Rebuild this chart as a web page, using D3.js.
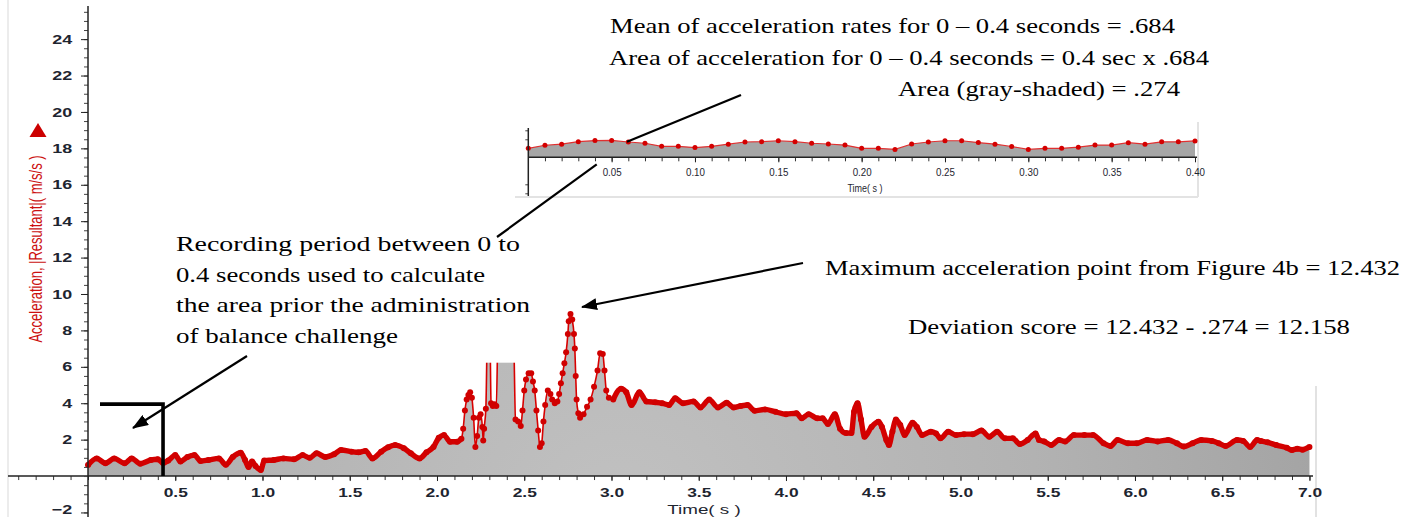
<!DOCTYPE html>
<html>
<head>
<meta charset="utf-8">
<script src="https://cdn.jsdelivr.net/npm/d3@7"></script>
<style>
body { margin: 0; background: #fff; }
svg { display: block; }
.ann { font-family: "Liberation Serif", "Times New Roman", serif; font-size: 22px; fill: #000; }
.sans { font-family: "Liberation Sans", Arial, sans-serif; }
</style>
</head>
<body>
<div id="chart"></div>
<script>
'use strict'
var width = 1411;
var height = 517;

// resultant acceleration (m/s/s) against time (s)
var times = [
	0.00,0.05,0.10,0.15,0.21,0.25,0.30,0.36,0.40,0.43,
	0.46,0.50,0.53,0.57,0.61,0.645,0.69,0.75,0.79,0.83,
	0.875,0.90,0.92,0.94,0.96,0.99,1.01,1.065,1.12,1.18,
	1.23,1.27,1.31,1.36,1.41,1.45,1.51,1.55,1.59,1.63,
	1.68,1.72,1.76,1.81,1.85,1.90,1.94,1.98,2.01,2.04,
	2.075,2.115,2.14,
	2.15,2.16,2.17,2.18,2.19,2.20,2.21,2.22,2.23,2.24,
	2.25,2.26,2.265,2.27,2.28,2.29,2.30,2.31,2.32,2.33,
	2.34,2.35,2.37,2.40,2.42,2.44,2.45,2.465,2.48,2.49,
	2.50,2.51,2.525,2.54,2.55,2.56,2.57,2.58,2.59,2.60,
	2.61,2.62,2.635,2.65,2.66,2.675,2.69,2.70,2.71,2.72,
	2.73,2.74,2.75,2.755,2.765,2.775,2.785,2.79,2.795,2.80,
	2.81,2.82,2.84,2.86,2.88,2.90,2.92,2.935,2.95,2.96,
	2.97,2.985,
	3.01,3.055,3.085,3.115,3.16,3.20,3.25,3.29,3.33,3.365,
	3.41,3.47,3.51,3.56,3.61,3.66,3.70,3.74,3.78,3.82,
	3.88,3.94,4.00,4.06,4.09,4.13,4.18,4.21,4.24,4.28,
	4.31,4.345,4.375,4.39,4.41,4.43,4.45,4.49,4.53,4.55,
	4.575,4.59,4.61,4.63,4.655,4.68,4.725,4.75,4.78,4.83,
	4.86,4.885,4.93,4.975,5.02,5.07,5.12,5.165,5.21,5.255,
	5.30,5.34,5.385,5.43,5.45,5.48,5.52,5.565,5.60,5.65,
	5.71,5.76,5.82,5.86,5.90,5.96,6.01,6.07,6.13,6.19,
	6.24,6.28,6.33,6.38,6.44,6.48,6.52,6.585,6.62,6.66,
	6.70,6.72,6.76,6.81,6.87,6.90,6.93,6.96,7.00
];
var accel = [
	0.60,0.97,0.70,0.97,0.70,0.97,0.68,0.88,0.92,0.72,
	0.85,1.15,0.80,1.05,1.15,0.82,0.88,0.97,0.62,1.05,
	1.28,0.88,0.50,0.80,0.55,0.33,0.85,0.88,0.97,0.92,
	1.15,1.00,1.25,1.05,1.20,1.43,1.34,1.30,1.38,0.97,
	1.34,1.58,1.70,1.53,1.25,0.97,1.30,1.60,2.10,2.25,
	1.88,1.88,2.05,
	2.60,3.60,4.20,4.45,4.60,4.30,3.20,1.60,2.20,3.20,
	3.40,2.70,1.95,2.60,3.70,9.00,10.50,4.00,3.85,3.95,
	3.85,8.50,11.00,12.40,10.50,7.50,3.10,3.00,2.75,3.60,
	4.70,5.30,5.65,5.65,5.20,4.70,3.60,2.50,1.60,1.80,
	3.00,3.90,4.70,4.50,4.20,4.00,4.10,4.50,5.10,5.65,
	6.20,6.80,7.80,8.50,8.90,8.60,7.80,7.00,5.50,4.20,
	3.45,3.20,3.40,3.80,4.20,4.90,5.80,6.75,6.70,5.80,
	4.70,4.30,
	4.20,4.80,4.60,3.90,4.60,4.10,4.05,4.00,3.90,4.27,
	4.00,4.10,3.77,4.20,3.77,4.03,3.77,3.85,3.90,3.59,
	3.66,3.53,3.40,3.45,3.17,3.40,3.17,3.17,2.86,3.40,
	2.60,2.36,2.36,3.53,4.00,3.10,2.16,2.70,2.98,2.70,
	1.98,1.70,2.45,3.10,2.80,2.25,2.93,2.70,2.25,2.43,
	2.34,2.07,2.43,2.25,2.30,2.30,2.50,2.16,2.43,2.07,
	2.07,1.76,1.98,2.34,1.98,1.90,1.70,1.98,1.90,2.25,
	2.25,2.25,1.80,1.65,1.98,1.80,1.80,1.98,1.90,1.98,
	1.80,1.62,1.80,1.98,1.93,1.80,1.65,1.98,1.93,1.60,
	1.98,1.93,1.85,1.70,1.55,1.43,1.50,1.45,1.60
];

// inset: the first 0.4 s at 100 Hz
var insetTimes = [
	0.00,0.01,0.02,0.03,0.04,0.05,0.06,0.07,0.08,0.09,
	0.10,0.11,0.12,0.13,0.14,0.15,0.16,0.17,0.18,0.19,
	0.20,0.21,0.22,0.23,0.24,0.25,0.26,0.27,0.28,0.29,
	0.30,0.31,0.32,0.33,0.34,0.35,0.36,0.37,0.38,0.39,
	0.40
];
var insetAccel = [
	0.50,0.67,0.73,0.87,0.93,0.94,0.85,0.78,0.61,0.61,
	0.54,0.61,0.73,0.85,0.87,0.92,0.87,0.78,0.74,0.68,
	0.50,0.50,0.44,0.74,0.85,0.92,0.92,0.82,0.73,0.60,
	0.44,0.50,0.50,0.56,0.68,0.68,0.81,0.73,0.86,0.86,
	0.91
];

var xTicks = [0.5,1.0,1.5,2.0,2.5,3.0,3.5,4.0,4.5,5.0,5.5,6.0,6.5,7.0];
var yTicks = [-2,2,4,6,8,10,12,14,16,18,20,22,24];
var insetTicks = [0.05,0.10,0.15,0.20,0.25,0.30,0.35,0.40];

var data = times.map(function(t, i){ return {t: t, v: accel[i]}; });
var insetData = insetTimes.map(function(t, i){ return {t: t, v: insetAccel[i]}; });

var svg = d3.select("#chart")
	.append('svg')
	.attr("width", width)
	.attr("height", height);

var x = d3.scaleLinear().domain([-0.4585, 7.026]).range([8, 1314]);
var y = d3.scaleLinear().domain([-2.25, 25.82]).range([517, 6]);

var defs = svg.append("defs");
var grad = defs.append("radialGradient")
	.attr("id", "areaFill")
	.attr("gradientUnits", "userSpaceOnUse")
	.attr("cx", 620).attr("cy", 520).attr("r", 760);
grad.append("stop").attr("offset", "0%").attr("stop-color", "#c1c1c1");
grad.append("stop").attr("offset", "55%").attr("stop-color", "#b2b2b2");
grad.append("stop").attr("offset", "100%").attr("stop-color", "#a1a1a1");

defs.append("marker")
	.attr("id", "arrow")
	.attr("markerUnits", "userSpaceOnUse")
	.attr("viewBox", "0 0 16 12")
	.attr("markerWidth", 16).attr("markerHeight", 12)
	.attr("refX", 15).attr("refY", 6)
	.attr("orient", "auto")
	.append("path")
		.attr("d", "M0,0L16,6L0,12z")
		.attr("fill", "#000");

// faint frame lines of the pasted graph
svg.append("line").attr("x1", 8).attr("x2", 8).attr("y1", 0).attr("y2", height)
	.style("stroke", "#e6e6e6").style("stroke-width", 1.5);
svg.append("line").attr("x1", 1316).attr("x2", 1316).attr("y1", 386).attr("y2", height)
	.style("stroke", "#e2e2e2").style("stroke-width", 2);

// Draw the area and trace
var area = d3.area()
	.x(function(d){ return x(d.t); })
	.y0(y(0))
	.y1(function(d){ return y(d.v); })
	.curve(d3.curveMonotoneX);

svg.append("path")
	.datum(data)
	.attr("d", area)
	.attr("fill", "url(#areaFill)");

var line = d3.line()
	.x(function(d){ return x(d.t); })
	.y(function(d){ return y(d.v); })
	.curve(d3.curveMonotoneX);

svg.append("path")
	.datum(data)
	.attr("d", line)
	.attr("fill", "none")
	.style("stroke", "#d80000")
	.style("stroke-width", 1.6);

// slow parts: the dense markers merge into a thick band
svg.append("path")
	.datum(data)
	.attr("d", line.defined(function(d){ return d.t < 2.145 || d.t > 3.0; }))
	.attr("fill", "none")
	.style("stroke", "#d40000")
	.style("stroke-width", 5.4)
	.style("stroke-linejoin", "round");

svg.append("g")
	.selectAll("circle")
	.data(data)
	.enter()
	.append("circle")
		.attr("cx", function(d){ return x(d.t); })
		.attr("cy", function(d){ return y(d.v); })
		.attr("r", 3)
		.attr("fill", "#d00000");

// x axis
var x0 = y(0);
svg.append("g")
	.attr("transform", "translate(0," + x0 + ")")
	.style("color", "#333")
	.call(d3.axisBottom(x).tickValues(d3.range(-4, 71).map(function(i){ return i / 10; }))
		.tickSize(4).tickSizeOuter(0).tickFormat(""))
	.call(function(g){ g.select(".domain").remove(); });

var xAxis = svg.append("g")
	.attr("transform", "translate(0," + x0 + ")")
	.style("color", "#222")
	.call(d3.axisBottom(x).tickValues(xTicks).tickSize(5).tickSizeOuter(0).tickFormat(d3.format(".1f")))
	.call(function(g){ g.select(".domain").remove(); });
xAxis.selectAll("text")
	.attr("class", "sans")
	.attr("y", 12.3)
	.attr("transform", "scale(1.45,1)")
	.style("font-size", "12px")
	.style("font-weight", "bold")
	.style("fill", "#1e2530");

svg.append("line")
	.attr("x1", 8).attr("x2", 1313)
	.attr("y1", x0).attr("y2", x0)
	.style("stroke", "#222").style("stroke-width", 1.5);

// y axis
svg.append("g")
	.attr("transform", "translate(" + x(0) + ",0)")
	.style("color", "#444")
	.call(d3.axisLeft(y).tickValues(d3.range(-4, 52).map(function(i){ return i / 2; }))
		.tickSize(4).tickSizeOuter(0).tickFormat(""))
	.call(function(g){ g.select(".domain").remove(); });

var yAxis = svg.append("g")
	.attr("transform", "translate(" + x(0) + ",0)")
	.style("color", "#222")
	.call(d3.axisLeft(y).tickValues(yTicks).tickSize(7).tickSizeOuter(0).tickFormat(d3.format("d")))
	.call(function(g){ g.select(".domain").remove(); });
yAxis.selectAll("text")
	.attr("class", "sans")
	.attr("x", -11.4)
	.attr("dy", function(d){ return d < 0 ? "0.05em" : "0.32em"; })
	.attr("transform", "scale(1.38,1)")
	.style("font-size", "13px")
	.style("font-weight", "bold")
	.style("fill", "#1e2530");

svg.append("line")
	.attr("x1", x(0)).attr("x2", x(0))
	.attr("y1", 6).attr("y2", height)
	.style("stroke", "#222").style("stroke-width", 1.5);

svg.append("text")
	.attr("class", "sans")
	.attr("transform", "translate(704,514) scale(1.45,1)")
	.attr("text-anchor", "middle")
	.style("font-size", "13px")
	.style("fill", "#1e2530")
	.text("Time( s )");

svg.append("text")
	.attr("class", "sans")
	.attr("transform", "translate(42,249) scale(1.4,1) rotate(-90)")
	.attr("text-anchor", "middle")
	.style("font-size", "13px")
	.style("fill", "#cc1010")
	.text("Acceleration, |Resultant|( m/s/s )");

svg.append("path")
	.attr("d", "M38,123L46.5,137L29.5,137z")
	.attr("fill", "#cc0000");

// white text box that hides the top of the spikes
svg.append("rect")
	.attr("x", 170).attr("y", 222)
	.attr("width", 347.3).attr("height", 140.7)
	.attr("fill", "#fff");

// annotations
var notes = [
	{x: 610, y: 33, w: 565, s: "Mean of acceleration rates for 0 \u2013 0.4 seconds = .684"},
	{x: 609, y: 65, w: 600, s: "Area of acceleration for 0 \u2013 0.4 seconds = 0.4 sec x .684"},
	{x: 898, y: 96, w: 282, s: "Area (gray-shaded) = .274"},
	{x: 176, y: 251, w: 344, s: "Recording period between 0 to"},
	{x: 176, y: 282, w: 309, s: "0.4 seconds used to calculate"},
	{x: 176, y: 312, w: 354, s: "the area prior the administration"},
	{x: 176, y: 343, w: 222, s: "of balance challenge"},
	{x: 825, y: 275, w: 575, s: "Maximum acceleration point from Figure 4b = 12.432"},
	{x: 908, y: 334, w: 442, s: "Deviation score = 12.432 - .274 = 12.158"}
];
svg.append("g")
	.selectAll("text")
	.data(notes)
	.enter()
	.append("text")
		.attr("class", "ann")
		.attr("x", function(d){ return d.x; })
		.attr("y", function(d){ return d.y; })
		.attr("textLength", function(d){ return d.w; })
		.attr("lengthAdjust", "spacingAndGlyphs")
		.text(function(d){ return d.s; });

// inset: first 0.4 seconds
var xi = d3.scaleLinear().domain([0, 0.4]).range([528.3, 1195]);
var yi = d3.scaleLinear().domain([0, 1]).range([157.3, 139.3]);

svg.append("line").attr("x1", 1198).attr("x2", 1198).attr("y1", 122).attr("y2", 197)
	.style("stroke", "#e3e3e3").style("stroke-width", 2);
svg.append("line").attr("x1", 515).attr("x2", 1198).attr("y1", 197).attr("y2", 197)
	.style("stroke", "#e3e3e3").style("stroke-width", 2);

svg.append("path")
	.datum(insetData)
	.attr("d", d3.area()
		.x(function(d){ return xi(d.t); })
		.y0(yi(0))
		.y1(function(d){ return yi(d.v); }))
	.attr("fill", "#a6a6a6");

svg.append("path")
	.datum(insetData)
	.attr("d", d3.line()
		.x(function(d){ return xi(d.t); })
		.y(function(d){ return yi(d.v); }))
	.attr("fill", "none")
	.style("stroke", "#e03030")
	.style("stroke-width", 1.2);

svg.append("g")
	.selectAll("circle")
	.data(insetData)
	.enter()
	.append("circle")
		.attr("cx", function(d){ return xi(d.t); })
		.attr("cy", function(d){ return yi(d.v); })
		.attr("r", 2.5)
		.attr("fill", "#d40000");

svg.append("g")
	.attr("transform", "translate(0," + yi(0) + ")")
	.style("color", "#333")
	.call(d3.axisBottom(xi).tickValues(d3.range(1, 41).map(function(i){ return i / 100; }))
		.tickSize(4).tickSizeOuter(0).tickFormat(""))
	.call(function(g){ g.select(".domain").remove(); });

var xiAxis = svg.append("g")
	.attr("transform", "translate(0," + yi(0) + ")")
	.style("color", "#222")
	.call(d3.axisBottom(xi).tickValues(insetTicks).tickSize(5).tickSizeOuter(0).tickFormat(d3.format(".2f")))
	.call(function(g){ g.select(".domain").remove(); });
xiAxis.selectAll("text")
	.attr("class", "sans")
	.attr("y", 11)
	.attr("transform", "scale(0.85,1)")
	.style("font-size", "11.5px")
	.style("fill", "#1e2530");

svg.append("line")
	.attr("x1", xi(0)).attr("x2", 1197)
	.attr("y1", yi(0)).attr("y2", yi(0))
	.style("stroke", "#222").style("stroke-width", 1.5);

svg.append("g")
	.attr("transform", "translate(" + xi(0) + ",0)")
	.style("color", "#444")
	.call(d3.axisLeft(yi).tickValues([-2, -1.5, 1, 1.5]).tickSize(3).tickSizeOuter(0).tickFormat(""))
	.call(function(g){ g.select(".domain").remove(); });

svg.append("line")
	.attr("x1", xi(0)).attr("x2", xi(0))
	.attr("y1", 128).attr("y2", 196)
	.style("stroke", "#222").style("stroke-width", 1.5);

svg.append("text")
	.attr("class", "sans")
	.attr("transform", "translate(865,191.5) scale(0.9,1)")
	.attr("text-anchor", "middle")
	.style("font-size", "10px")
	.style("fill", "#1e2530")
	.text("Time( s )");

// pointer lines
var pointers = [
	{x1: 741, y1: 95, x2: 627, y2: 141.7, head: false},
	{x1: 596.7, y1: 164.3, x2: 497, y2: 237, head: false},
	{x1: 247, y1: 356, x2: 133, y2: 428, head: true},
	{x1: 803, y1: 263, x2: 582, y2: 307, head: true}
];
svg.append("g")
	.selectAll("line")
	.data(pointers)
	.enter()
	.append("line")
		.attr("x1", function(d){ return d.x1; })
		.attr("y1", function(d){ return d.y1; })
		.attr("x2", function(d){ return d.x2; })
		.attr("y2", function(d){ return d.y2; })
		.attr("marker-end", function(d){ return d.head ? "url(#arrow)" : null; })
		.style("stroke", "#000")
		.style("stroke-width", 2.2);

// bracket marking the 0.4 s recording window
svg.append("path")
	.attr("d", "M100," + y(3.95) + "H" + x(0.43) + "V" + x0)
	.attr("fill", "none")
	.style("stroke", "#000")
	.style("stroke-width", 3.6);
</script>
</body>
</html>
